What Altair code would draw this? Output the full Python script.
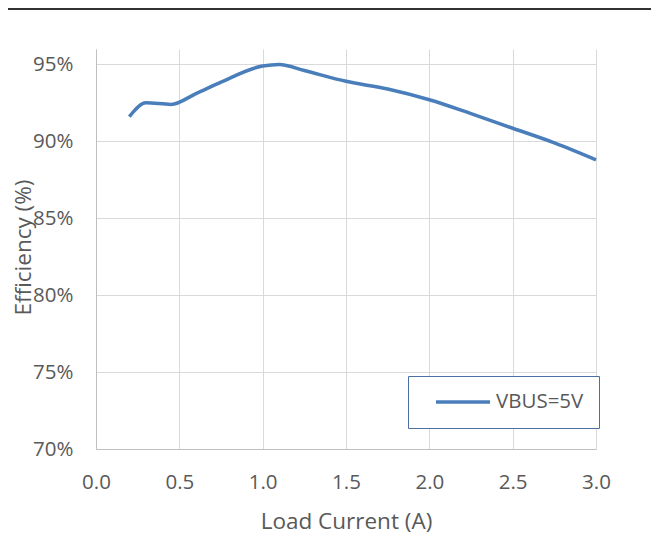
import altair as alt
import pandas as pd

load_current = [0.2, 0.3, 0.45, 0.6, 0.75, 1.0, 1.1, 1.25, 1.5, 1.75, 2.0, 2.25, 2.5, 2.75, 3.0]
efficiency = [91.6, 92.5, 92.4, 93.1, 93.85, 94.9, 95.0, 94.6, 93.9, 93.4, 92.7, 91.8, 90.85, 89.9, 88.8]
series = ["VBUS=5V"] * len(load_current)

x_ticks = [0.0, 0.5, 1.0, 1.5, 2.0, 2.5, 3.0]
y_ticks = [70, 75, 80, 85, 90, 95]

df = pd.DataFrame({"x": load_current, "y": efficiency, "s": series})

FONT = "Open Sans"
GRAY = "#595959"
LBL = 20.5
TTL = 22.5

line = alt.Chart(df).mark_line(strokeWidth=3.5, interpolate="monotone").encode(
    x=alt.X("x:Q", scale=alt.Scale(domain=[0, 3], nice=False, zero=False),
            axis=alt.Axis(values=x_ticks, format=".1f", title="Load Current (A)",
                          grid=True, gridColor="#D9D9D9", domainColor="#BFBFBF",
                          ticks=False, tickSize=0, labelPadding=23, labelFlush=False,
                          labelFontSize=LBL, labelColor=GRAY, labelFont=FONT,
                          titleFontSize=TTL, titleColor=GRAY, titleFont=FONT, titleFontWeight="normal",
                          titleY=79, titleBaseline="alphabetic")),
    y=alt.Y("y:Q", scale=alt.Scale(domain=[70, 96], nice=False, zero=False),
            axis=alt.Axis(values=y_ticks, format=".0f", labelExpr="datum.label + '%'",
                          title="Efficiency (%)",
                          grid=True, gridColor="#D9D9D9", domainColor="#BFBFBF",
                          ticks=False, tickSize=0, labelPadding=23, labelFlush=False,
                          labelFontSize=LBL, labelColor=GRAY, labelFont=FONT,
                          titleFontSize=TTL, titleColor=GRAY, titleFont=FONT, titleFontWeight="normal",
                          titleAngle=270, titleX=-66, titleY=198, titleAlign="center",
                          titleBaseline="alphabetic")),
    color=alt.Color("s:N", scale=alt.Scale(range=["#4A7EBB"]),
                    legend=alt.Legend(title=None, orient="none", legendX=312, legendY=327,
                                      symbolType="M-3,0H3", symbolSize=324, symbolStrokeWidth=3.5,
                                      symbolOffset=29, labelOffset=22,
                                      labelFontSize=LBL, labelColor=GRAY, labelFont=FONT,
                                      padding=15,
                                      fillColor="white", strokeColor="#4A6FA5")),
)

top_rule = alt.Chart(df).mark_rule(color="#333333", strokeWidth=2).encode(
    x=alt.value(-88), x2=alt.value(560), y=alt.value(-40)
)

chart = alt.layer(top_rule, line).properties(
    width=500, height=400,
    autosize=alt.AutoSizeParams(type="none"),
    padding={"left": 88, "top": 41, "right": 55, "bottom": 88},
).configure_view(strokeWidth=0)

chart.save("out.html", embed_options={"renderer": "svg", "actions": False})
